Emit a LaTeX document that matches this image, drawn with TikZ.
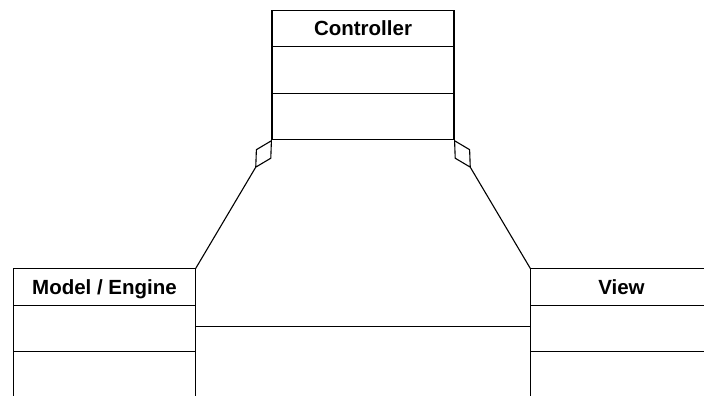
\documentclass[tikz,border=0pt]{standalone}
\usepackage{fontspec}
\setmainfont{Liberation Sans}
\usepackage{tikz}
\usetikzlibrary{positioning,arrows.meta}

\begin{document}
\begin{tikzpicture}[
    x=1pt, y=-1pt,
    head/.style={draw, line width=1.1pt, fill=white, minimum width=182pt, minimum height=36.5pt, outer sep=0pt, inner sep=0pt, text height=17pt, text depth=2.3pt, font=\fontsize{20.5}{24}\selectfont\bfseries},
    part/.style={draw, line width=1.1pt, fill=white, minimum width=182pt, minimum height=46.5pt, outer sep=0pt, inner sep=0pt},
    agg/.style={{Diamond[open, length=33pt, width=18pt, line width=1.1pt]}-, line width=1.1pt},
    link/.style={line width=1.1pt}
]
    \clip (0,0) rectangle (704,396);

    % Controller
    \node[head] (ctrl) at (363,28.5) {Controller};
    \node[part, below=0pt of ctrl] (ctrlattr) {};
    \node[part, below=0pt of ctrlattr] (ctrlops) {};

    % Model / Engine
    \node[head] (model) at (104.5,287) {Model / Engine};
    \node[part, below=0pt of model] (modelattr) {};
    \node[part, below=0pt of modelattr] (modelops) {};

    % View
    \node[head] (view) at (621.5,287) {View};
    \node[part, below=0pt of view] (viewattr) {};
    \node[part, below=0pt of viewattr] (viewops) {};

    % Aggregations and association
    \draw[agg] (ctrlops.south west) -- (model.north east);
    \draw[agg] (ctrlops.south east) -- (view.north west);
    \draw[link] ([yshift=2pt]modelattr.east) -- ([yshift=2pt]viewattr.west);
\end{tikzpicture}
\end{document}
